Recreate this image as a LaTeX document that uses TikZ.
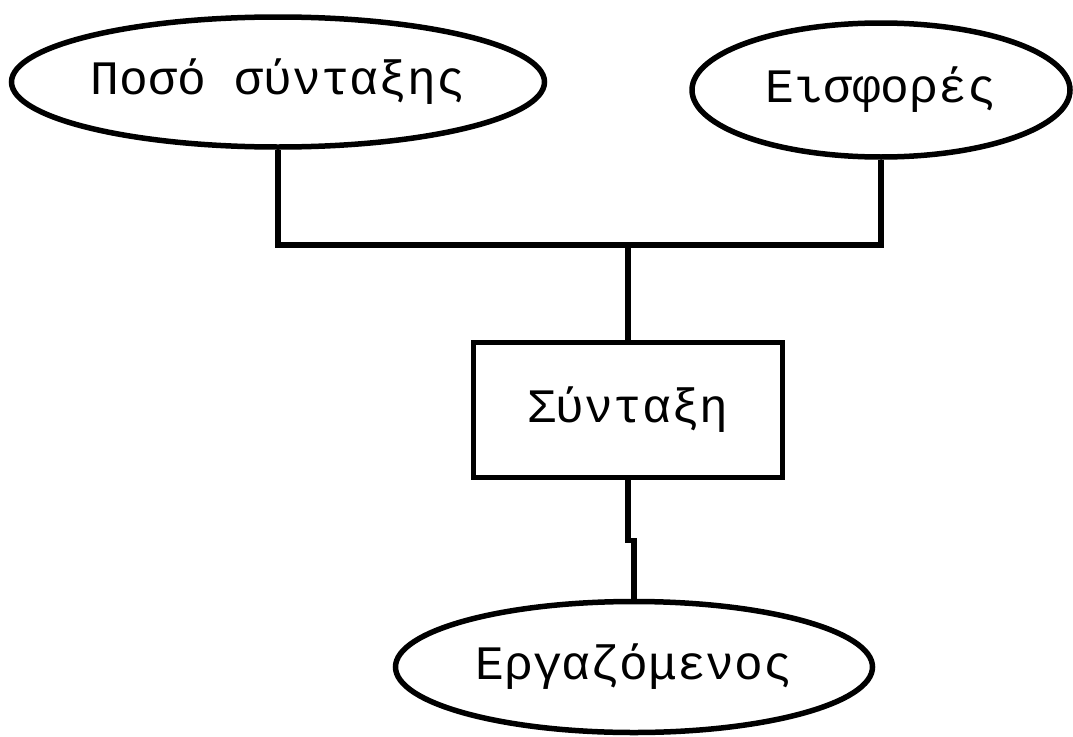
\documentclass[tikz,border=0pt]{standalone}
\usepackage{fontspec}
\newfontfamily\greekmono{Liberation Mono}
\usetikzlibrary{shapes.geometric}

\begin{document}
\begin{tikzpicture}[x=1pt,y=-1pt,line width=5.5pt,
    attr/.style={draw,ellipse,inner sep=0pt,font=\greekmono\fontsize{48}{54}\selectfont},
    entity/.style={draw,rectangle,inner sep=0pt,font=\greekmono\fontsize{48}{54}\selectfont}]
      \useasboundingbox (0,0) rectangle (1073,736);
      \node[attr,minimum width=533,minimum height=130] (poso) at (278,82) {Ποσό σύνταξης};
      \node[attr,minimum width=378,minimum height=134] (eisf) at (881,90) {Εισφορές};
      \node[entity,minimum width=309,minimum height=135] (synt) at (628,410) {Σύνταξη};
      \node[attr,minimum width=477,minimum height=131] (ergaz) at (634,667) {Εργαζόμενος};
      \coordinate (join) at (628,245);
      \draw (poso.south) |- (join) -| (eisf.south);
      \draw (join) -- (synt.north);
      \draw (synt.south) |- ++(6,60) -- (ergaz.north);
    \end{tikzpicture}
\end{document}
